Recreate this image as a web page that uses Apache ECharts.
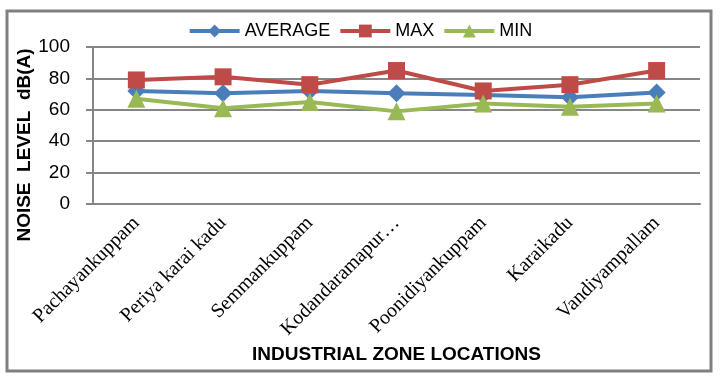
<!DOCTYPE html>
<html><head><meta charset="utf-8">
<script src="https://cdn.jsdelivr.net/npm/echarts@6/dist/echarts.min.js"></script>
<style>html,body{margin:0;padding:0;background:#fff}#c{width:720px;height:379px}</style>
</head><body><div id="c"></div>
<script>
var categories = ["Pachayankuppam","Periya karai kadu","Semmankuppam","Kodandaramapuram","Poonidiyankuppam","Karaikadu","Vandiyampallam"];
var tickLabels = ["Pachayankuppam","Periya karai kadu","Semmankuppam","Kodandaramapur\u2026","Poonidiyankuppam","Karaikadu","Vandiyampallam"];
var averageValues = [72, 70.5, 72, 70.5, 69.5, 68, 71];
var maxValues = [79, 81, 76, 85, 72, 76, 85];
var minValues = [67, 61, 65, 59, 64, 62, 64];
var yTicks = [0, 20, 40, 60, 80, 100];

var chart = echarts.init(document.getElementById('c'), null, {renderer:'canvas'});
chart.setOption({
  animation:false,
  backgroundColor:'#fff',
  graphic:[
    {type:'rect', shape:{x:7,y:11,width:704,height:360}, style:{fill:'none', stroke:'#808080', lineWidth:3}},
    {type:'text', x:25, y:145, rotation:Math.PI/2,
      style:{text:'NOISE  LEVEL  dB(A)', fontFamily:'Liberation Sans', fontWeight:'bold', fontSize:19, fill:'#000', align:'center', verticalAlign:'middle'}}
  ],
  legend:{
    top:17, left:'center', itemWidth:50, itemHeight:16, itemGap:8,
    lineStyle:{width:4},
    textStyle:{fontFamily:'Liberation Sans', fontSize:18, color:'#000'},
    data:['AVERAGE','MAX','MIN']
  },
  grid:{left:93, right:20, top:47, bottom:175, containLabel:false, outerBoundsMode:'none'},
  xAxis:{
    type:'category', data:categories, boundaryGap:true,
    axisLine:{lineStyle:{color:'#868686', width:2}},
    axisTick:{show:false},
    axisLabel:{rotate:45, interval:0, margin:16, fontFamily:'Liberation Serif', fontSize:20, color:'#000',
      overflow:'none', hideOverlap:false,
      formatter:function(v, i){return tickLabels[i];}},
    name:'INDUSTRIAL ZONE LOCATIONS', nameLocation:'middle', nameGap:141,
    nameTextStyle:{fontFamily:'Liberation Sans', fontWeight:'bold', fontSize:19, color:'#000'}
  },
  yAxis:{
    type:'value', min:yTicks[0], max:yTicks[yTicks.length-1], interval:20,
    axisLine:{show:true, lineStyle:{color:'#868686', width:2}},
    axisTick:{show:true, length:7, lineStyle:{color:'#868686', width:2}},
    splitLine:{lineStyle:{color:'#868686', width:2}},
    axisLabel:{fontFamily:'Liberation Sans', fontSize:19, color:'#000', margin:23}
  },
  series:[
    {name:'AVERAGE', type:'line', data:averageValues, symbol:'diamond', symbolSize:18,
      lineStyle:{color:'#4a7ebb', width:4}, itemStyle:{color:'#4a7ebb'}},
    {name:'MAX', type:'line', data:maxValues, symbol:'rect', symbolSize:17,
      lineStyle:{color:'#be4b48', width:4}, itemStyle:{color:'#be4b48'}},
    {name:'MIN', type:'line', data:minValues, symbol:'triangle', symbolSize:18,
      lineStyle:{color:'#98b954', width:4}, itemStyle:{color:'#98b954'}}
  ]
});
</script></body></html>
